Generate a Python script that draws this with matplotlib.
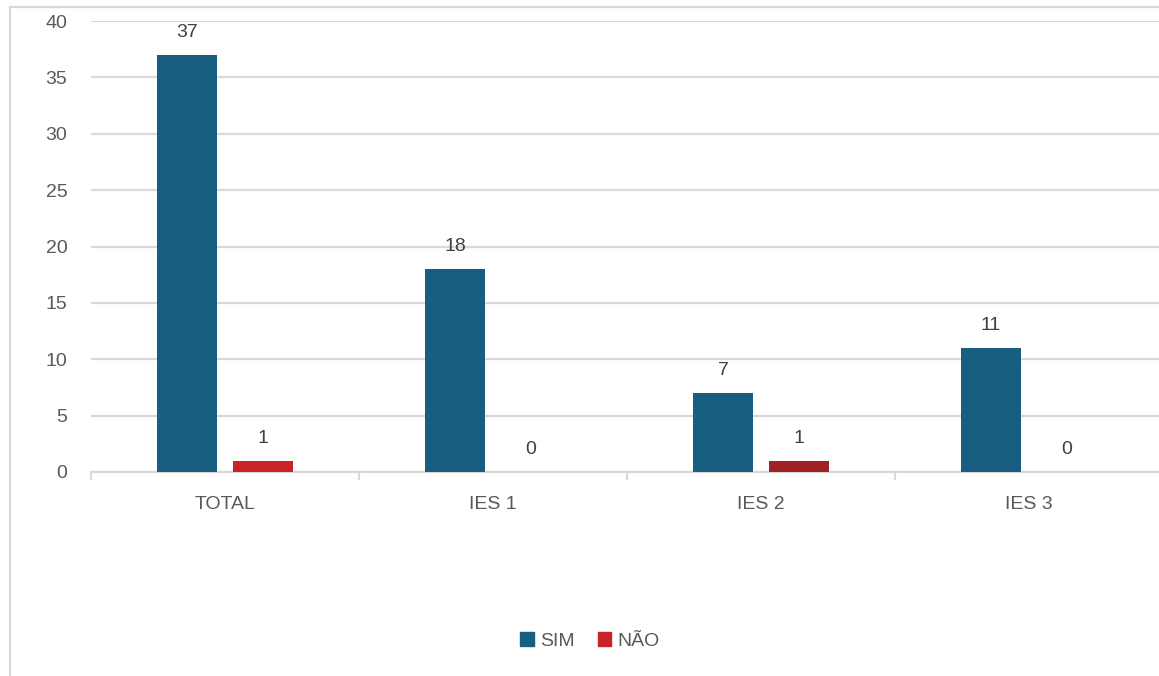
import matplotlib
matplotlib.use("Agg")
import matplotlib.pyplot as plt
from matplotlib.patches import Patch
from matplotlib.lines import Line2D
import numpy as np

categories = ["TOTAL", "IES 1", "IES 2", "IES 3"]
sim = [37, 18, 7, 11]
nao = [1, 0, 1, 0]
yticks = [0, 5, 10, 15, 20, 25, 30, 35, 40]

c_sim = "#175e80"
c_nao = ["#c9232a", "#c9232a", "#9f2124", "#c9232a"]
grid_c = "#d9d9d9"
txt_c = "#595959"
lab_c = "#404040"

plt.rcParams['font.family'] = ['Liberation Sans', 'DejaVu Sans']

fig = plt.figure(figsize=(11.59, 6.76), dpi=100)
W, H = 1159, 676
ax = fig.add_axes([91 / W, 1 - 472 / H, (1163 - 91) / W, (472 - 21) / H])

x = np.arange(len(categories))
w = 0.224
off = 0.142
ax.bar(x - off, sim, width=w, color=c_sim, zorder=3)
ax.bar(x + off, nao, width=w, color=c_nao, zorder=3)

for xi, v in zip(x - off, sim):
    ax.annotate(str(v), (xi, v), xytext=(0, 18), textcoords="offset pixels",
                ha="center", va="baseline", fontsize=14, color=lab_c)
for xi, v in zip(x + off, nao):
    ax.annotate(str(v), (xi, v), xytext=(0, 18), textcoords="offset pixels",
                ha="center", va="baseline", fontsize=14, color=lab_c)

ax.set_xlim(-0.5, len(categories) - 0.5)
ax.set_ylim(0, 40)
ax.set_yticks(yticks)
ax.set_yticklabels([str(t) for t in yticks], fontsize=14, color=txt_c)
ax.tick_params(axis="y", length=0, pad=17)
ax.yaxis.grid(True, color=grid_c, linewidth=1.6, zorder=0)
ax.set_axisbelow(True)

ax.set_xticks(np.arange(-0.5, len(categories) + 0.5, 1.0))
ax.set_xticklabels([])
ax.tick_params(axis="x", which="major", length=6, width=1.5, color=grid_c)
ax.set_xticks(x, minor=True)
ax.set_xticklabels(categories, minor=True, fontsize=14, color=txt_c)
ax.tick_params(axis="x", which="minor", length=0, pad=17)

for s in ["top", "right", "left"]:
    ax.spines[s].set_visible(False)
ax.spines["bottom"].set_color(grid_c)
ax.spines["bottom"].set_linewidth(1.6)

handles = [Patch(color=c_sim, label="SIM"), Patch(color="#c9232a", label="NÃO")]
leg = fig.legend(handles=handles, loc="center", bbox_to_anchor=(590 / W, 1 - 641 / H),
                 ncol=2, frameon=False, fontsize=14, handlelength=0.7, handleheight=0.7,
                 handletextpad=0.3, columnspacing=1.2)
for t in leg.get_texts():
    t.set_color(txt_c)

# chart-area border (top and left)
fig.add_artist(Line2D([10 / W, 10 / W], [0, 1 - 7 / H], transform=fig.transFigure,
                      color=grid_c, linewidth=1.6))
fig.add_artist(Line2D([10 / W, 1], [1 - 7 / H, 1 - 7 / H], transform=fig.transFigure,
                      color=grid_c, linewidth=1.6))

fig.savefig("out.png", dpi=100, facecolor="white")
